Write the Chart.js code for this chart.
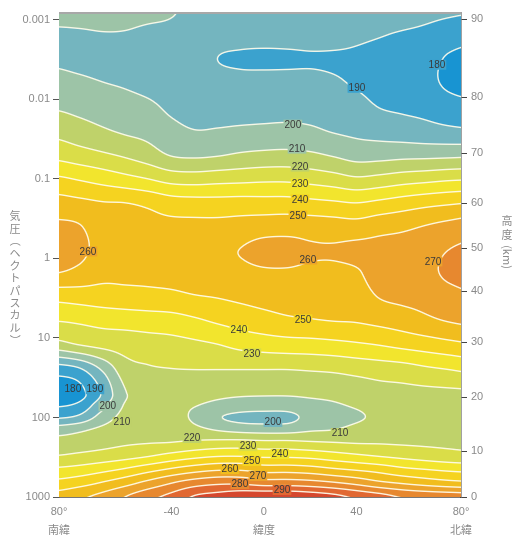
<!DOCTYPE html>
<html><head><meta charset="utf-8">
<script src="https://cdn.jsdelivr.net/npm/chart.js@4.4.1/dist/chart.umd.min.js"></script>
<style>html,body{margin:0;padding:0;background:#fff;}</style>
</head><body>
<canvas id="c" width="518" height="541"></canvas>
<script>
// ---------- DATA ----------
const latitudes = [-90,-80,-70,-60,-50,-40,-30,-20,-10,0,10,20,30,40,50,60,70,80,90];
const pressureLevels = [0.0008,0.0015,0.003,0.006,0.012,0.025,0.05,0.1,0.2,0.4,0.8,1.5,3,6,12,25,50,70,100,140,200,300,450,650,1000];
// temperature (K); one row per pressure level, one value per latitude
const temperatureK = [
 [205,204,203,202,201.5,200.5,198,197,196.5,196,196,195.5,195,194.5,194,193.5,192,191,190.3],
 [198,198.8,199.6,199.5,198.4,197.9,196.3,194.8,194,194,194,193.8,193.5,191.8,190.6,189.3,188,185.4,183.5],
 [198,196.7,195.6,195.3,195,195.3,194.3,190,188.8,188.3,188.6,189.2,189,188.6,187.1,185.3,183.6,179,176.6],
 [203.5,201.9,200,198.7,197,195.4,193.9,193.3,192.5,192.8,192.7,192.2,191,188.9,186.3,184.5,182.7,178,175.6],
 [208.7,207,205.2,203.4,201.5,198.2,196.9,196.7,196.3,196.5,196.5,196.2,194.8,193.1,189.5,188.1,186.9,184,182.3],
 [217,214.2,211.3,208.7,206.8,202.6,200.3,200.7,201.5,202,202.4,201.6,199.4,197.9,196.4,195,193.5,192.2,191.3],
 [227,224.3,221.6,218.6,214.7,209.4,208.3,209.3,211.3,212.4,212.8,211.7,209.1,206.2,206.3,207.1,207.3,207.7,208.3],
 [241.7,239.2,236.2,233.1,230,226.2,225.4,226.4,227.1,227.9,227.9,226.4,224.3,221.5,223.1,225.4,226.9,228.5,229.2],
 [254,252.4,250.5,250,247.9,244.6,243.8,243.6,244,243.8,243.8,242.5,241.3,240,242.1,244.6,246.9,248.6,250],
 [261.9,260.7,254.8,253.4,252.5,252.6,252.7,252.9,253.9,255.2,255.8,255.5,254.8,254.1,256.5,258.1,260.6,263.2,265.5],
 [264,262.2,256.9,255.2,254.7,256,257,257.8,260.3,263.7,263.8,261.3,261,262.7,263.6,264.4,265.8,270.2,272.1],
 [260.3,257.4,252.9,252.3,252.2,252.9,253.7,254.6,256.9,258.5,258.7,257.6,257.4,258.8,265.4,267.8,267.8,271.8,273.7],
 [243.3,244.4,245.6,246.7,247.4,248,249.5,250.5,252,253.4,254,253.7,253.8,254.8,260.6,262.6,263.5,266.6,268.9],
 [230.5,231.6,233,234,235,236,238.6,241.6,244.2,246.4,248.4,249.4,250.3,250.8,252.8,255,258,260.7,262.4],
 [216.3,220.5,223.3,224.8,225.9,226.7,228.1,230,233,234.7,235.8,236.3,237.4,238.9,240.6,242.9,245,247.3,249.3],
 [184.4,188.3,200.9,215.5,218.7,219.7,220,220,220,220,220,220.7,221.5,223.1,224.6,225.8,228.2,230,232.1],
 [174.5,176.7,191,209.3,212.1,213.5,213.7,212.5,211.7,211.4,211.4,212.1,212.9,214.4,216.5,217.2,217.6,218,218.3],
 [178.8,182.3,196.7,210.8,213.7,213.1,210.5,207.8,205.9,205.3,205.4,207.5,208.9,211.2,214.1,215.3,215.7,216.2,216.3],
 [188.9,192.5,204.3,213.3,215.5,215.2,208,201,197.5,196.5,197,203,205,208.5,212.2,213.3,213.7,214.2,214.6],
 [204.3,207.5,212,215.8,217.3,217.3,212.7,208.7,206.2,205.4,205.6,208.4,209.6,212.9,215.5,215.4,215.6,215.8,215.6],
 [213.6,214.5,216.4,218.3,219.1,219.5,221,222,222.2,221.1,221.1,220,219.2,218.6,218.7,218.3,218.1,218,217.9],
 [220,221.7,223.6,226,228.9,232.9,236.3,238.6,238.8,237.5,237.5,236.3,233.8,231.3,229,227,225,223.3,222.2],
 [231.7,233.6,237,241.1,246.3,251.4,255.7,258.6,258.6,255.7,255.7,254.3,251.4,248.8,246,242.2,240,238,237],
 [242.5,245.5,250,255.6,262.2,268.8,274.3,277.1,277.1,274.3,274.3,272.9,270,266.3,261.3,258,255,252.5,251],
 [254,258,263,270,277,283,291,294,297,298,298,296,293,288,284,279,277,276,275]
];
const isothermStart = 170;   // lowest band edge (K)
const isothermStep = 10;     // contour interval (K)

const latMin = -88.6, latMax = 85.2;
const pressureMin = 0.00082, pressureMax = 1000;
const latTicks = [-88.6, -40, 0, 40, 85.2];
const latTickLabels = [['80°','南緯'], ['-40',''], ['0','緯度'], ['40',''], ['80°','北緯']];
const pressureTicks = [0.001, 0.01, 0.1, 1, 10, 100, 1000];
const pressureTickLabels = ['0.001','0.01','0.1','1','10','100','1000'];
const altitudeKm = [0, 10, 20, 30, 40, 50, 60, 70, 80, 90];
const altitudePressure = [1000, 264, 55.3, 11.25, 2.57, 0.74, 0.201, 0.0473, 0.00934, 0.000976];

const contourLabelText = ['190','180','200','210','220','230','240','250','260','260','270','250','240','230','180','190','200','210','200','210','220','230','240','250','260','270','280','290'];
const contourLabelLat  = [40.2,74.8,12.5,14.3,15.6,15.6,15.6,14.7,-76.1,19.0,73.1,16.9,-10.8,-5.2,-82.6,-73.1,-67.5,-61.4,3.9,32.9,-31.1,-6.9,6.9,-5.2,-14.7,-2.6,-10.4,7.8];
const contourLabelP    = [0.00715,0.00367,0.0208,0.0416,0.070,0.1145,0.1817,0.288,0.817,1.03,1.09,5.83,8.0,15.6,44.1,44.1,72.1,114,114,157,181,229,288,353,445,544,687,817];

// ---------- STYLE ----------
const bandColors = ['#1894d2','#3ba2ce','#74b5bf','#9dc4a7','#bfd26a','#dadd48','#f2e52d','#f5d320','#f1bd1e','#eca32c','#e7882f','#e16832','#d5482e'];
const FONT = '"Liberation Sans", "Noto Sans CJK JP", sans-serif';
const CJK = '"Noto Sans CJK JP", sans-serif';
const tickColor = '#8a8a8a';

// ---------- interpolation helpers (rendering only) ----------
const logLevels = pressureLevels.map(p => Math.log10(p));
function fracIndex(v, arr) {
  const n = arr.length;
  if (v <= arr[0]) return 0;
  if (v >= arr[n-1]) return n-1;
  let i = 0;
  while (i < n-2 && v > arr[i+1]) i++;
  return i + (v - arr[i]) / (arr[i+1] - arr[i]);
}
function prep(f, n) {
  let i = Math.floor(f); if (i > n-2) i = n-2; if (i < 0) i = 0;
  const t = f - i, t2 = t*t, t3 = t2*t;
  const w = [(-t3 + 2*t2 - t)/2, (3*t3 - 5*t2 + 2)/2, (-3*t3 + 4*t2 + t)/2, (t3 - t2)/2];
  const idx = [i-1, i, i+1, i+2].map(k => Math.min(n-1, Math.max(0, k)));
  return {idx, w};
}
function sampleWith(cx, ry) {
  let s = 0;
  for (let a = 0; a < 4; a++) {
    const row = temperatureK[ry.idx[a]];
    let rs = 0;
    for (let b = 0; b < 4; b++) rs += cx.w[b] * row[cx.idx[b]];
    s += ry.w[a] * rs;
  }
  return s;
}
function sampleT(lat, p) {
  return sampleWith(prep(fracIndex(lat, latitudes), latitudes.length),
                    prep(fracIndex(Math.log10(p), logLevels), logLevels.length));
}
function hexRGB(h) { return [parseInt(h.substr(1,2),16), parseInt(h.substr(3,2),16), parseInt(h.substr(5,2),16)]; }
const bandRGB = bandColors.map(hexRGB);
function bandIndex(T) {
  let b = Math.floor((T - isothermStart) / isothermStep);
  return Math.max(0, Math.min(bandColors.length - 1, b));
}

const fieldPlugin = {
  id: 'field',
  beforeDatasetsDraw(chart) {
    const {ctx, chartArea: a, scales} = chart;
    const xs = scales.x, ys = scales.y;
    const L = Math.round(a.left), Tp = Math.round(a.top);
    const W = Math.round(a.right) - L, H = Math.round(a.bottom) - Tp;
    const cols = [], rows = [];
    for (let x = 0; x < W; x++) cols.push(prep(fracIndex(xs.getValueForPixel(L + x + 0.5), latitudes), latitudes.length));
    for (let y = 0; y < H; y++) rows.push(prep(fracIndex(Math.log10(ys.getValueForPixel(Tp + y + 0.5)), logLevels), logLevels.length));
    const T = new Float32Array(W * H);
    for (let y = 0; y < H; y++) for (let x = 0; x < W; x++) T[y*W + x] = sampleWith(cols[x], rows[y]);
    const off = document.createElement('canvas');
    off.width = W; off.height = H;
    const octx = off.getContext('2d');
    const img = octx.createImageData(W, H);
    const d = img.data;
    const lineRGB = [255, 252, 236];
    for (let y = 0; y < H; y++) {
      for (let x = 0; x < W; x++) {
        const k = y*W + x, t = T[k];
        const c = bandRGB[bandIndex(t)];
        const xl = x > 0 ? T[k-1] : t, xr = x < W-1 ? T[k+1] : t;
        const yu = y > 0 ? T[k-W] : t, yd = y < H-1 ? T[k+W] : t;
        const gx = (xr - xl) / ((x > 0 && x < W-1) ? 2 : 1);
        const gy = (yd - yu) / ((y > 0 && y < H-1) ? 2 : 1);
        const g = Math.max(Math.hypot(gx, gy), 1e-4);
        const lev = Math.round(t / isothermStep) * isothermStep;
        const dist = Math.abs(t - lev) / g;
        let al = Math.min(1, Math.max(0, 1.2 - dist)) * 0.92;
        const o = k*4;
        d[o]   = c[0]*(1-al) + lineRGB[0]*al;
        d[o+1] = c[1]*(1-al) + lineRGB[1]*al;
        d[o+2] = c[2]*(1-al) + lineRGB[2]*al;
        d[o+3] = 255;
      }
    }
    octx.putImageData(img, 0, 0);
    ctx.save();
    ctx.drawImage(off, L, Tp);
    // contour labels
    ctx.font = '10px "Liberation Sans", sans-serif';
    ctx.textAlign = 'center';
    ctx.textBaseline = 'middle';
    for (let i = 0; i < contourLabelText.length; i++) {
      const X = xs.getPixelForValue(contourLabelLat[i]);
      const Y = ys.getPixelForValue(contourLabelP[i]);
      const tv = sampleT(contourLabelLat[i], contourLabelP[i]);
      const w = ctx.measureText(contourLabelText[i]).width;
      ctx.fillStyle = bandColors[bandIndex(tv)];
      ctx.fillRect(X - w/2 - 1, Y - 5, w + 2, 10);
      ctx.fillStyle = '#3a3a3a';
      ctx.fillText(contourLabelText[i], X, Y + 0.5);
    }
    // top frame line
    ctx.strokeStyle = '#a8a8a8';
    ctx.lineWidth = 2;
    ctx.beginPath(); ctx.moveTo(a.left, a.top); ctx.lineTo(a.right, a.top); ctx.stroke();
    ctx.restore();
  }
};

const titlePlugin = {
  id: 'titles',
  afterDraw(chart) {
    const ctx = chart.ctx;
    ctx.save();
    ctx.fillStyle = '#8a8a8a';
    ctx.font = '11px ' + CJK;
    ctx.textAlign = 'center';
    ctx.textBaseline = 'middle';
    const left = ['気','圧','（','ヘ','ク','ト','パ','ス','カ','ル','）'];
    left.forEach((ch, i) => {
      const y = 216 + i * 12.4;
      if (ch === '（' || ch === '）') {
        ctx.save(); ctx.translate(15, y); ctx.rotate(Math.PI/2); ctx.fillText(ch, 0, 0); ctx.restore();
      } else ctx.fillText(ch, 15, y);
    });
    ctx.fillText('高', 507, 221);
    ctx.fillText('度', 507, 235);
    ctx.save(); ctx.translate(507, 257); ctx.rotate(Math.PI/2); ctx.fillText('(km)', 0, 0); ctx.restore();
    ctx.restore();
  }
};

Chart.defaults.font.family = FONT;
new Chart(document.getElementById('c'), {
  type: 'scatter',
  data: { datasets: [{ data: [] }] },
  options: {
    responsive: false, animation: false, devicePixelRatio: 1,
    layout: { padding: { top: 13, left: 0, right: 0, bottom: 0 } },
    plugins: { legend: { display: false }, tooltip: { enabled: false } },
    scales: {
      x: {
        type: 'linear', position: 'bottom', min: latMin, max: latMax,
        afterBuildTicks: s => { s.ticks = latTicks.map(v => ({ value: v })); },
        afterFit: s => { s.height = 44; },
        ticks: { autoSkip: false, maxRotation: 0, padding: 5, color: tickColor,
                 font: { size: 11, lineHeight: 1.75 },
                 callback: (v, i) => latTickLabels[i] },
        grid: { display: false, drawTicks: false },
        border: { display: true, color: '#777', width: 1 }
      },
      y: {
        type: 'logarithmic', position: 'left', min: pressureMin, max: pressureMax, reverse: true,
        afterBuildTicks: s => { s.ticks = pressureTicks.map(v => ({ value: v })); },
        afterFit: s => { s.width = 59; },
        ticks: { autoSkip: false, padding: 3, color: tickColor, font: { size: 11 },
                 callback: (v, i) => pressureTickLabels[i] },
        grid: { drawOnChartArea: false, drawTicks: true, tickLength: 6, color: '#555' },
        border: { display: true, color: '#666', width: 1 }
      },
      y2: {
        type: 'logarithmic', position: 'right', min: pressureMin, max: pressureMax, reverse: true,
        afterBuildTicks: s => { s.ticks = altitudePressure.map(v => ({ value: v })); },
        afterFit: s => { s.width = 57; },
        ticks: { autoSkip: false, padding: 4, color: tickColor, font: { size: 11 },
                 callback: (v, i) => String(altitudeKm[i]) },
        grid: { drawOnChartArea: false, drawTicks: true, tickLength: 6, color: '#444' },
        border: { display: true, color: '#444', width: 1.5 }
      }
    }
  },
  plugins: [fieldPlugin, titlePlugin]
});
</script>
</body></html>
